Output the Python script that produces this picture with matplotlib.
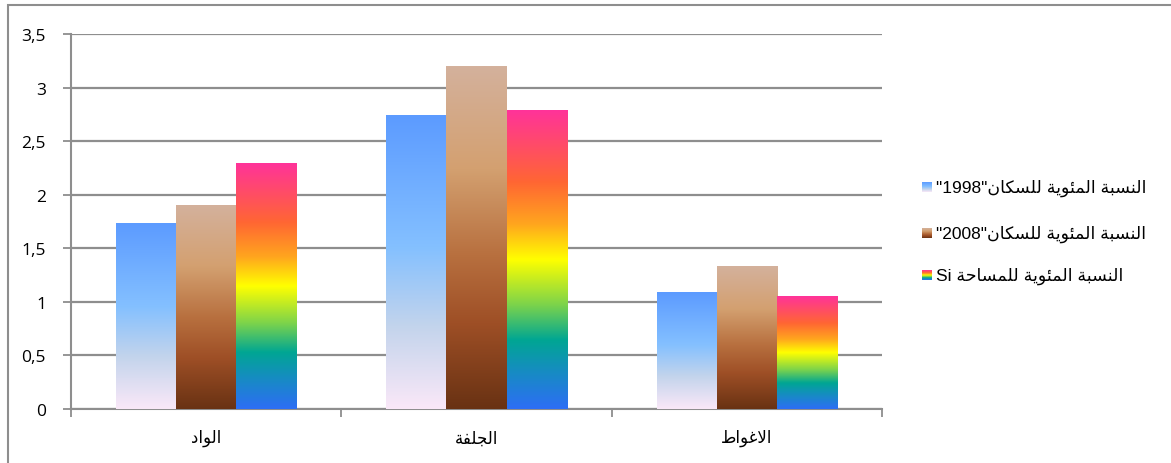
import unicodedata

import matplotlib

matplotlib.use("Agg")
import matplotlib.pyplot as plt
import numpy as np
from matplotlib.colors import LinearSegmentedColormap
from matplotlib.patches import Rectangle

# data
categories = ["الواد", "الجلفة", "الاغواط"]
series_names = ['النسبة المئوية للسكان"1998"',
                'النسبة المئوية للسكان"2008"',
                "النسبة المئوية للمساحة Si"]
pop_1998 = [1.73, 2.74, 1.09]
pop_2008 = [1.90, 3.20, 1.33]
area_si = [2.29, 2.79, 1.05]
yticks = [0, 0.5, 1, 1.5, 2, 2.5, 3, 3.5]
ytick_labels = ["0", "0,5", "1", "1,5", "2", "2,5", "3", "3,5"]

# gradient stops, top of bar -> bottom of bar
_GRAD = [
    [(0.0, "#5C9BFF"), (0.45, "#84C0FF"), (0.72, "#C3D4EC"), (1.0, "#FAE8F8")],
    [(0.0, "#D4B19C"), (0.3, "#D3A070"), (0.55, "#B8703F"), (0.75, "#9E4F26"), (1.0, "#693213")],
    [(0.0, "#FF3399"), (0.24, "#FF6633"), (0.38, "#FFA51E"), (0.5, "#FFFF00"),
     (0.65, "#7ED44A"), (0.77, "#00A693"), (0.88, "#178BC4"), (1.0, "#2D6EF5")],
]
GRID = "#8E8E8E"


def _form(c, f):
    try:
        return unicodedata.lookup(unicodedata.name(c) + " " + f + " FORM")
    except (KeyError, ValueError):
        return None


def arabic(s):
    """Poor man's shaping + RTL ordering (no raqm in mpl 3.10)."""
    toks = []
    i = 0
    while i < len(s):
        if s[i] == "ل" and i + 1 < len(s) and s[i + 1] == "ا":
            toks.append(("LA", "\ufefb", "\ufefc", False))
            i += 2
            continue
        c = s[i]
        if "\u0621" <= c <= "\u064a":
            toks.append(("L", c, None, _form(c, "INITIAL") is not None))
        else:
            toks.append(("X", c, None, False))
        i += 1
    out = []
    for j, t in enumerate(toks):
        kind, c = t[0], t[1]
        if kind == "X":
            out.append(c)
            continue
        prev = toks[j - 1] if j > 0 else None
        nxt = toks[j + 1] if j + 1 < len(toks) else None
        jp = prev is not None and prev[0] != "X" and prev[3]
        jn = t[3] and nxt is not None and nxt[0] != "X"
        if kind == "LA":
            out.append(t[2] if jp else t[1])
            continue
        if jp and jn:
            g = _form(c, "MEDIAL")
        elif jp:
            g = _form(c, "FINAL")
        elif jn:
            g = _form(c, "INITIAL")
        else:
            g = _form(c, "ISOLATED")
        out.append(g or c)
    vis = "".join(out)[::-1]
    # put latin/digit runs back in reading order
    res, run = [], ""
    for ch in vis:
        if ch.isascii() and ch.isalnum():
            run += ch
        else:
            res.append(run[::-1]); run = ""
            res.append(ch)
    res.append(run[::-1])
    return "".join(res)


def _cmap(stops):
    return LinearSegmentedColormap.from_list("g", stops, N=256)


plt.rcParams["font.family"] = ["DejaVu Sans"]
fig = plt.figure(figsize=(11.71, 4.64), dpi=100)
W, H = 1171, 464
ax = fig.add_axes([71 / W, 1 - 410 / H, (882 - 71) / W, (410 - 35) / H])

values = [pop_1998, pop_2008, area_si]
x = np.arange(len(categories))
bw = 60 / 270
grad = np.linspace(0, 1, 256)[:, None]
for k, vals in enumerate(values):
    bars = ax.bar(x + (k - 1) * bw, vals, width=bw, color="none", zorder=3)
    cm = _cmap(_GRAD[k])
    for b in bars:
        x0, w, h = b.get_x(), b.get_width(), b.get_height()
        ax.imshow(grad, cmap=cm, aspect="auto", extent=(x0, x0 + w, 0, h),
                  interpolation="bilinear", zorder=3)

ax.set_xlim(-0.5, len(categories) - 0.5)
ax.set_ylim(0, 3.5)
ax.set_yticks(yticks)
ax.set_yticklabels(ytick_labels, family="Open Sans", fontsize=12.5)
ax.yaxis.grid(True, color=GRID, lw=1.6, zorder=0)
ax.set_axisbelow(True)
ax.set_xticks(np.arange(len(categories) + 1) - 0.5, minor=False)
ax.set_xticklabels([])
ax.set_xticks(x, minor=True)
ax.set_xticklabels([arabic(c) for c in categories], minor=True, fontsize=12)
ax.tick_params(axis="x", which="minor", length=0, pad=14)
ax.tick_params(axis="x", which="major", length=6, color=GRID, width=1.3, direction="out")
ax.tick_params(axis="y", length=6, color=GRID, width=1.3, pad=12)
for s in ["top", "right"]:
    ax.spines[s].set_visible(False)
for s in ["left", "bottom"]:
    ax.spines[s].set_color(GRID)
    ax.spines[s].set_linewidth(1.5)

# legend, drawn by hand so the swatches keep their gradients
for k, (name, ly) in enumerate(zip(series_names, [188, 234, 276])):
    sw = fig.add_axes([922 / W, 1 - (ly + 5) / H, 10 / W, 10 / H])
    sw.imshow(grad, cmap=_cmap(_GRAD[k]), aspect="auto", interpolation="bilinear")
    sw.set_axis_off()
    fig.text(936 / W, 1 - ly / H, arabic(name), fontsize=12.5, va="center", ha="left",
             family=["Liberation Sans", "DejaVu Sans"])

fig.patches.append(Rectangle((8 / W, -0.1), 1.2, 1 - 6 / H + 0.1, transform=fig.transFigure,
                             fill=False, ec=GRID, lw=1.5, clip_on=False))
fig.savefig("out.png", dpi=100)
